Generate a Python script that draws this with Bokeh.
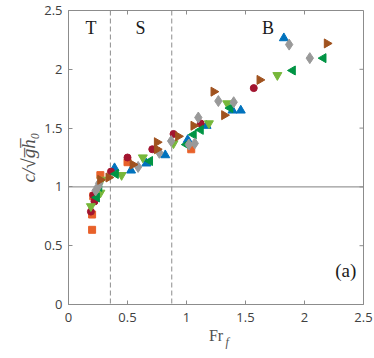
import numpy as np
from bokeh.plotting import figure
from bokeh.models import Span, Label, Range1d, FixedTicker, LinearAxis, CustomJSTickFormatter
from bokeh.embed import file_html
from bokeh.resources import INLINE

# ---- data ----
blue_x = [0.22, 0.25, 0.39, 0.53, 0.66, 0.82, 1.01, 1.17, 1.39, 1.46, 1.825]
blue_y = [0.92, 0.98, 1.16, 1.14, 1.20, 1.27, 1.40, 1.52, 1.65, 1.65, 2.265]

orange_x = [0.20, 0.20, 0.21, 0.27, 0.50, 1.04]
orange_y = [0.635, 0.765, 0.92, 1.10, 1.21, 1.32]

red_x = [0.19, 0.22, 0.21, 0.36, 0.50, 0.71, 0.89, 1.12, 1.57]
red_y = [0.79, 0.876, 0.93, 1.13, 1.25, 1.32, 1.45, 1.54, 1.84]

lgreen_x = [0.19, 0.27, 0.28, 0.45, 0.63, 0.89, 1.19, 1.345, 1.77]
lgreen_y = [0.835, 0.95, 1.06, 1.10, 1.25, 1.37, 1.54, 1.71, 1.95]

dgreen_x = [0.24, 0.26, 0.40, 0.69, 1.00, 1.06, 1.12, 1.37, 1.90, 2.16]
dgreen_y = [0.91, 1.00, 1.11, 1.22, 1.36, 1.445, 1.485, 1.67, 1.99, 2.095]

gray_x = [0.23, 0.25, 0.26, 0.59, 0.77, 0.87, 1.02, 1.07, 1.10, 1.27, 1.40, 1.87, 2.045]
gray_y = [0.97, 1.00, 1.03, 1.17, 1.29, 1.39, 1.36, 1.37, 1.59, 1.73, 1.72, 2.21, 2.095]

brown_x = [0.27, 0.34, 0.545, 0.75, 0.75, 0.93, 1.06, 1.23, 1.32, 1.62, 2.19]
brown_y = [1.06, 1.08, 1.19, 1.32, 1.38, 1.43, 1.52, 1.81, 1.61, 1.91, 2.22]

x_ticks = [0, 0.5, 1, 1.5, 2, 2.5]
y_ticks = [0, 0.5, 1, 1.5, 2, 2.5]
regime_x = [0.355, 0.875]
regime_labels = ["T", "S", "B"]
regime_label_x = [0.19, 0.61, 1.69]
x_label_main = "Fr"
x_label_sub = "f"
y_label = "c/\u221ag\u0305h\u0305\u2080"

XMAX, YMAX = 2.5, 2.5
p = figure(width=374, height=358, x_range=Range1d(0, XMAX), y_range=Range1d(0, YMAX),
           output_backend="svg", toolbar_location=None,
           min_border_left=68, min_border_right=11, min_border_top=10, min_border_bottom=54)
p.xgrid.visible = False
p.ygrid.visible = False
p.outline_line_color = "#8c8c8c"
p.outline_line_width = 1

serif = "Liberation Serif"
tick_font = "Open Sans"
for ax in [p.xaxis[0], p.yaxis[0]]:
    ax.axis_line_color = "#8c8c8c"
    ax.major_tick_line_color = "#8c8c8c"
    ax.major_tick_in = 4
    ax.major_tick_out = 0
    ax.minor_tick_line_color = None
    ax.major_label_text_font = tick_font
    ax.major_label_text_font_size = "13px"
    ax.major_label_text_color = "#404040"
p.xaxis[0].ticker = FixedTicker(ticks=x_ticks)
p.yaxis[0].ticker = FixedTicker(ticks=y_ticks)
p.xaxis[0].major_label_standoff = 8
p.yaxis[0].major_label_standoff = 6
p.xaxis[0].major_label_overrides = {0: "0", 1: "1", 2: "2"}
p.yaxis[0].major_label_overrides = {0: "0", 1: "1", 2: "2"}

p.yaxis[0].axis_label = y_label
p.yaxis[0].axis_label_text_font = serif
p.yaxis[0].axis_label_text_font_size = "19px"
p.yaxis[0].axis_label_text_font_style = "italic"
p.yaxis[0].axis_label_text_color = "#505050"
p.yaxis[0].axis_label_standoff = 2

# second (bare) axis below carrying the x label "Fr" with its subscript "f"
sub_axis = LinearAxis(ticker=FixedTicker(ticks=[1.345]),
                      formatter=CustomJSTickFormatter(code="return '%s'" % x_label_sub),
                      axis_line_color=None, major_tick_line_color=None, minor_tick_line_color=None,
                      major_tick_in=0, major_tick_out=0,
                      major_label_text_font=serif, major_label_text_font_size="12px",
                      major_label_text_font_style="italic", major_label_text_color="#505050",
                      major_label_standoff=10,
                      axis_label=x_label_main, axis_label_text_font=serif,
                      axis_label_text_font_size="16px", axis_label_text_font_style="normal",
                      axis_label_text_color="#505050", axis_label_standoff=-25)
p.add_layout(sub_axis, "below")

# inward ticks on the top and right edges (box on)
tick_len_x = 4 * XMAX / 295
tick_len_y = 4 * YMAX / 294
p.segment(x0=x_ticks, y0=[YMAX] * len(x_ticks), x1=x_ticks, y1=[YMAX - tick_len_y] * len(x_ticks),
          line_color="#8c8c8c", line_width=1)
p.segment(x0=[XMAX] * len(y_ticks), y0=y_ticks, x1=[XMAX - tick_len_x] * len(y_ticks), y1=y_ticks,
          line_color="#8c8c8c", line_width=1)

p.add_layout(Span(location=1, dimension="width", line_color="#808080", line_width=1, level="underlay"))
for rx in regime_x:
    p.add_layout(Span(location=rx, dimension="height", line_color="#8c8c8c", line_width=1,
                      line_dash="5 3", level="underlay"))

sz = 8
p.scatter(blue_x, blue_y, marker="triangle", size=sz + 1, fill_color="#0072BD", line_color="#0072BD")
p.scatter(orange_x, orange_y, marker="square", size=sz - 1, fill_color="#E8612A", line_color="#E8612A")
p.scatter(red_x, red_y, marker="circle", size=sz - 1, fill_color="#A2142F", line_color="#A2142F")
p.scatter(lgreen_x, lgreen_y, marker="inverted_triangle", size=sz + 1, fill_color="#77B73A", line_color="#77B73A")
p.scatter(dgreen_x, dgreen_y, marker="triangle", angle=np.pi / 2, size=sz + 1, fill_color="#009444", line_color="#009444")
p.scatter(gray_x, gray_y, marker="diamond", size=sz + 3, fill_color="#999999", line_color="#999999")
p.scatter(brown_x, brown_y, marker="triangle", angle=-np.pi / 2, size=sz + 1, fill_color="#A0521E", line_color="#A0521E")

for t, lx in zip(regime_labels, regime_label_x):
    p.add_layout(Label(x=lx, y=2.35, text=t, text_font=serif, text_font_size="18px",
                       text_align="center", text_baseline="middle", text_color="#1a1a1a"))
p.add_layout(Label(x=2.35, y=0.29, text="(a)", text_font=serif, text_font_size="19px",
                   text_align="center", text_baseline="middle", text_color="#1a1a1a"))

open("out.html", "w").write(file_html(p, INLINE))
